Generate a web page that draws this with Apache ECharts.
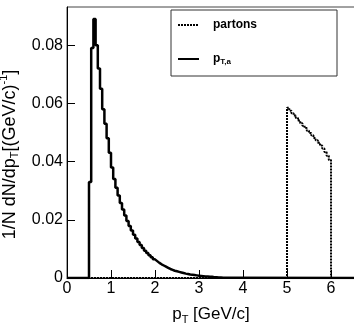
<!DOCTYPE html>
<html>
<head>
<meta charset="utf-8">
<script src="https://cdn.jsdelivr.net/npm/echarts@6/dist/echarts.min.js"></script>
<style>
  html, body { margin: 0; padding: 0; background: #fff; }
  #chart { width: 354px; height: 326px; }
</style>
</head>
<body>
<div id="chart"></div>
<script>
// histogram bins, width 0.05 GeV/c
const binWidth = 0.05;
const ptaStart = 0.5;
const ptaValues = [
  0.033, 0.079, 0.089, 0.080, 0.072, 0.065, 0.058, 0.053, 0.048, 0.043,
  0.038, 0.034, 0.031, 0.0283, 0.0258, 0.0235, 0.0215, 0.0196, 0.0179, 0.0163,
  0.0149, 0.0136, 0.0124, 0.0113, 0.0103, 0.0094, 0.0086, 0.0078, 0.0071, 0.0064,
  0.0058, 0.0052, 0.0047, 0.0043, 0.0039, 0.0035, 0.0031, 0.0028, 0.0025, 0.0023,
  0.0021, 0.0019, 0.0017, 0.0015, 0.0014, 0.0012, 0.0011, 0.0010, 0.0009, 0.0008,
  0.0007, 0.0006, 0.0005, 0.0005, 0.0004, 0.0004, 0.0003, 0.0003, 0.0002, 0.0002,
  0.0001, 0.0001
];
const partonStart = 5.0;
const partonValues = [
  0.0585, 0.0575, 0.0566, 0.0558, 0.0550, 0.0541, 0.0532, 0.0523, 0.0515, 0.0506,
  0.0498, 0.0490, 0.0481, 0.0473, 0.0465, 0.0455, 0.0445, 0.0433, 0.0420, 0.0405
];
const xMin = 0, xMax = 6.545;
const xTicks = [0, 1, 2, 3, 4, 5, 6];
const yTicks = [0, 0.02, 0.04, 0.06, 0.08];

// step points: each bin starts at its lower edge (step: 'end')
function histPoints(start, values) {
  const pts = [[xMin, 0]];
  values.forEach((v, i) => pts.push([+(start + i * binWidth).toFixed(3), v]));
  pts.push([+(start + values.length * binWidth).toFixed(3), 0]);
  pts.push([xMax, 0]);
  return pts;
}

const chart = echarts.init(document.getElementById("chart"));
const font = "Liberation Sans";

chart.setOption({
  animation: false,
  backgroundColor: "#fff",
  grid: {
    left: 67, right: -1, top: 7, bottom: 48,
    outerBoundsMode: "none",
    containLabel: false,
    show: true, borderColor: "#444", borderWidth: 1
  },
  legend: {
    orient: "vertical",
    left: 171, top: 10,
    padding: [9, 80, 10, 6],
    itemGap: 22,
    itemWidth: 21, itemHeight: 14,
    borderColor: "#333", borderWidth: 1,
    backgroundColor: "#fff",
    itemStyle: { opacity: 0 },
    data: ["partons", "pta"],
    formatter: (name) => name === "pta" ? "{b|p}{s|T,a}" : "{b|partons}",
    textStyle: {
      padding: [0, 0, 0, 9],
      rich: {
        b: { fontFamily: font, fontWeight: "bold", fontSize: 12, color: "#000" },
        s: { fontFamily: font, fontWeight: "bold", fontSize: 8, color: "#000", verticalAlign: "bottom", lineHeight: 14 }
      }
    }
  },
  xAxis: {
    type: "value",
    min: xMin, max: xMax, interval: 1,
    name: "{a|p}{s|T}{a| [GeV/c]}",
    nameLocation: "middle",
    nameGap: 25,
    nameTextStyle: {
      rich: {
        a: { fontFamily: font, fontSize: 17, color: "#000", lineHeight: 22 },
        s: { fontFamily: font, fontSize: 11, color: "#000", verticalAlign: "bottom", lineHeight: 22 }
      }
    },
    axisLine: { lineStyle: { color: "#000", width: 1 } },
    axisTick: { inside: true, length: 8, lineStyle: { color: "#000" } },
    axisLabel: {
      showMaxLabel: false,
      fontFamily: font, fontSize: 16, color: "#000", margin: 3,
      formatter: (v) => xTicks.includes(v) ? String(v) : ""
    },
    splitLine: { show: false }
  },
  yAxis: {
    type: "value",
    min: 0, max: 0.0931, interval: 0.02,
    name: "{a|1/N dN/dp}{s|T}{a|[(GeV/c)}{p|-1}{a|]}",
    nameLocation: "middle",
    nameGap: 33,
    nameTextStyle: {
      padding: [0, 24, 0, 0],
      rich: {
        a: { fontFamily: font, fontSize: 18, color: "#000", lineHeight: 22 },
        s: { fontFamily: font, fontSize: 11, color: "#000", verticalAlign: "bottom", lineHeight: 22 },
        p: { fontFamily: font, fontSize: 11, color: "#000", verticalAlign: "top", lineHeight: 22 }
      }
    },
    axisLine: { show: true, lineStyle: { color: "#000", width: 1 } },
    axisTick: { show: true, inside: true, length: 8, lineStyle: { color: "#000" } },
    axisLabel: {
      showMaxLabel: false,
      fontFamily: font, fontSize: 16, color: "#000", margin: 4,
      formatter: (v) => {
        const t = yTicks.find((k) => Math.abs(k - v) < 1e-9);
        return t === undefined ? "" : (t === 0 ? "0" : t.toFixed(2));
      }
    },
    splitLine: { show: false }
  },
  series: [
    {
      name: "partons",
      type: "line",
      step: "end",
      symbol: "none",
      data: histPoints(partonStart, partonValues),
      itemStyle: { color: "#000" },
      lineStyle: { color: "#000", width: 2, type: [2, 1] },
      z: 3
    },
    {
      name: "pta",
      type: "line",
      step: "end",
      symbol: "none",
      data: histPoints(ptaStart, ptaValues),
      itemStyle: { color: "#000" },
      lineStyle: { color: "#000", width: 2.5 },
      z: 4
    }
  ]
});
</script>
</body>
</html>
